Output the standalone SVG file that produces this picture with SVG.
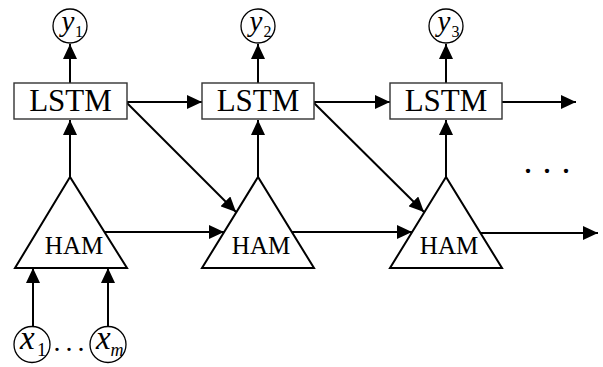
<svg xmlns="http://www.w3.org/2000/svg" width="603" height="367" viewBox="0 0 603 367">
<style>
.box{fill:#fff;stroke:#333;stroke-width:1.4}
.tri{fill:#fff;stroke:#000;stroke-width:2}
.circ{fill:#fff;stroke:#000;stroke-width:1.3}
.ln{fill:none;stroke:#000;stroke-width:2}
.big{font-family:"Liberation Serif","Times New Roman",serif;font-size:31px;fill:#000}
.ham{font-family:"Liberation Serif","Times New Roman",serif;font-size:25px;fill:#000}
.it{font-family:"Liberation Serif","Times New Roman",serif;font-style:italic;fill:#000}
.sub{font-family:"Liberation Serif","Times New Roman",serif;fill:#000}
.dots{font-family:"Liberation Serif","Times New Roman",serif;fill:#000}
</style>
<defs>
<marker id="ah" viewBox="0 0 15 14" refX="15" refY="7" markerWidth="15" markerHeight="14" orient="auto" markerUnits="userSpaceOnUse">
<path d="M0,0 L15,7 L0,14 z" fill="#000"/>
</marker>
</defs>
<rect width="603" height="367" fill="#fff"/>
<g id="connectors">
<line class="ln" x1="70" y1="83" x2="70" y2="44" marker-end="url(#ah)"/>
<line class="ln" x1="258" y1="83" x2="258" y2="44" marker-end="url(#ah)"/>
<line class="ln" x1="446" y1="83" x2="446" y2="44" marker-end="url(#ah)"/>
<line class="ln" x1="70" y1="177" x2="70" y2="120" marker-end="url(#ah)"/>
<line class="ln" x1="258" y1="177" x2="258" y2="120" marker-end="url(#ah)"/>
<line class="ln" x1="446" y1="177" x2="446" y2="120" marker-end="url(#ah)"/>
<line class="ln" x1="127" y1="102" x2="202" y2="102" marker-end="url(#ah)"/>
<line class="ln" x1="314" y1="102" x2="390" y2="102" marker-end="url(#ah)"/>
<line class="ln" x1="502" y1="102" x2="576" y2="102" marker-end="url(#ah)"/>
<line class="ln" x1="127" y1="103" x2="236" y2="212" marker-end="url(#ah)"/>
<line class="ln" x1="314" y1="103" x2="424" y2="212" marker-end="url(#ah)"/>
<line class="ln" x1="104" y1="232" x2="224" y2="232" marker-end="url(#ah)"/>
<line class="ln" x1="292" y1="232" x2="412" y2="232" marker-end="url(#ah)"/>
<line class="ln" x1="480" y1="233" x2="598" y2="233" marker-end="url(#ah)"/>
<line class="ln" x1="33" y1="326" x2="33" y2="268" marker-end="url(#ah)"/>
<line class="ln" x1="108" y1="326" x2="108" y2="268" marker-end="url(#ah)"/>
</g>
<g id="lstm1"><rect class="box" x="14" y="83" width="113" height="36"/><text class="big" x="70.5" y="111" text-anchor="middle">LSTM</text></g>
<g id="lstm2"><rect class="box" x="202" y="83" width="112" height="36"/><text class="big" x="258" y="111" text-anchor="middle">LSTM</text></g>
<g id="lstm3"><rect class="box" x="390" y="83" width="112" height="36"/><text class="big" x="446" y="111" text-anchor="middle">LSTM</text></g>
<g id="ham1"><polygon class="tri" points="70,177 15,268 127,268"/><text class="ham" x="74" y="254" text-anchor="middle">HAM</text></g>
<g id="ham2"><polygon class="tri" points="258,177 202,268 314,268"/><text class="ham" x="261" y="254" text-anchor="middle">HAM</text></g>
<g id="ham3"><polygon class="tri" points="446,177 390,268 502,268"/><text class="ham" x="449" y="254" text-anchor="middle">HAM</text></g>
<g id="y1"><circle class="circ" cx="70" cy="26" r="17"/><text class="it" x="61.5" y="30.5" font-size="29">y</text><text class="sub" x="75" y="37" font-size="16">1</text></g>
<g id="y2"><circle class="circ" cx="258" cy="26" r="17"/><text class="it" x="249.5" y="30.5" font-size="29">y</text><text class="sub" x="263.5" y="37" font-size="16">2</text></g>
<g id="y3"><circle class="circ" cx="446" cy="26" r="17"/><text class="it" x="437.5" y="30.5" font-size="29">y</text><text class="sub" x="451.5" y="37" font-size="16">3</text></g>
<g id="x1"><circle class="circ" cx="32" cy="344.5" r="18"/><text class="it" x="20" y="349" font-size="33">x</text><text class="sub" x="37" y="356" font-size="19">1</text></g>
<g id="xm"><circle class="circ" cx="108" cy="344.5" r="18"/><text class="it" x="96" y="349" font-size="33">x</text><text class="it" x="110.5" y="356" font-size="18">m</text></g>
<text class="dots" x="53.5" y="351" font-size="28" letter-spacing="5">...</text>
<text class="dots" x="523.5" y="173" font-size="36" letter-spacing="10">...</text>
</svg>
